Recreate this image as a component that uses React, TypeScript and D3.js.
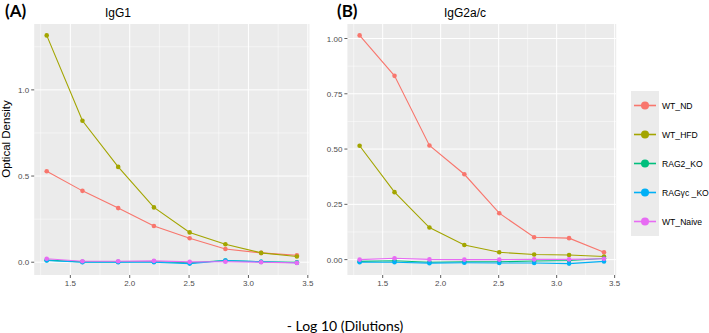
import * as d3 from "d3";

const dilutions = [1.301, 1.602, 1.903, 2.204, 2.505, 2.806, 3.107, 3.408];
const groups = ["WT_ND", "WT_HFD", "RAG2_KO", "RAGγc _KO", "WT_Naive"];
const colors = ["#F8766D", "#A3A500", "#00BF7D", "#00B0F6", "#E76BF3"];

// IgG1 optical density, one array per group
const igg1ND = [0.528, 0.414, 0.314, 0.21, 0.139, 0.077, 0.054, 0.04];
const igg1HFD = [1.316, 0.821, 0.553, 0.318, 0.173, 0.104, 0.054, 0.033];
const igg1RAG2 = [0.012, 0.002, 0.002, 0.004, -0.004, 0.01, 0.003, -0.001];
const igg1RAGgc = [0.01, 0.0, 0.0, 0.0, -0.008, 0.01, 0.002, -0.003];
const igg1Naive = [0.02, 0.006, 0.006, 0.008, 0.002, 0.003, 0.0, -0.004];

// IgG2a/c optical density
const igg2ND = [1.014, 0.831, 0.516, 0.386, 0.21, 0.101, 0.097, 0.033];
const igg2HFD = [0.515, 0.305, 0.145, 0.066, 0.033, 0.023, 0.021, 0.014];
const igg2RAG2 = [-0.008, -0.005, -0.012, -0.01, -0.01, -0.006, -0.004, 0.005];
const igg2RAGgc = [-0.012, -0.012, -0.016, -0.014, -0.015, -0.015, -0.018, -0.008];
const igg2Naive = [0.0, 0.006, 0.001, 0.0, 0.0, 0.001, 0.001, 0.004];

const xTicks = [1.5, 2.0, 2.5, 3.0, 3.5];
const xMinor = [1.25, 1.75, 2.25, 2.75, 3.25];
const yTicksA = [0, 0.5, 1.0];
const yMinorA = [0.25, 0.75, 1.25];
const yTicksB = [0, 0.25, 0.5, 0.75, 1.0];
const yMinorB = [0.125, 0.375, 0.625, 0.875];

const sans = "'Liberation Sans', Arial, sans-serif";
const calib = "Lato, 'Open Sans', sans-serif";

// ggplot-like 5% expansion
function expand(vals: number[]): [number, number] {
  const [lo, hi] = d3.extent(vals) as [number, number];
  const pad = (hi - lo) * 0.05;
  return [lo - pad, hi + pad];
}

interface PanelProps {
  left: number;
  right: number;
  series: number[][];
  yTicks: number[];
  yMinor: number[];
  yDigits: number;
}

function Panel({ left, right, series, yTicks, yMinor, yDigits }: PanelProps) {
  const top = 24;
  const bottom = 275;
  const x = d3.scaleLinear().domain(expand(dilutions)).range([left, right]);
  const y = d3.scaleLinear().domain(expand(series.flat())).range([bottom, top]);
  const line = d3
    .line<number>()
    .x((_, i) => x(dilutions[i]))
    .y((d) => y(d));

  return (
    <g>
      <rect x={left} y={top} width={right - left} height={bottom - top} fill="#ebebeb" />
      {xMinor.map((t) => (
        <line key={"xm" + t} x1={x(t)} x2={x(t)} y1={top} y2={bottom} stroke="#fff" strokeWidth={0.5} />
      ))}
      {yMinor.map((t) => (
        <line key={"ym" + t} x1={left} x2={right} y1={y(t)} y2={y(t)} stroke="#fff" strokeWidth={0.5} />
      ))}
      {xTicks.map((t) => (
        <line key={"xg" + t} x1={x(t)} x2={x(t)} y1={top} y2={bottom} stroke="#fff" strokeWidth={1} />
      ))}
      {yTicks.map((t) => (
        <line key={"yg" + t} x1={left} x2={right} y1={y(t)} y2={y(t)} stroke="#fff" strokeWidth={1} />
      ))}
      {series.map((s, k) => (
        <g key={groups[k]}>
          <path d={line(s) ?? ""} fill="none" stroke={colors[k]} strokeWidth={1.1} />
          {s.map((v, i) => (
            <circle key={i} cx={x(dilutions[i])} cy={y(v)} r={2.3} fill={colors[k]} />
          ))}
        </g>
      ))}
      {xTicks.map((t) => (
        <g key={"xt" + t}>
          <line x1={x(t)} x2={x(t)} y1={bottom} y2={bottom + 3} stroke="#333" strokeWidth={0.8} />
          <text x={x(t)} y={bottom + 11} textAnchor="middle" fontSize={8} fill="#4d4d4d" fontFamily={sans}>
            {t.toFixed(1)}
          </text>
        </g>
      ))}
      {yTicks.map((t) => (
        <g key={"yt" + t}>
          <line x1={left - 3} x2={left} y1={y(t)} y2={y(t)} stroke="#333" strokeWidth={0.8} />
          <text x={left - 5} y={y(t) + 3} textAnchor="end" fontSize={8} fill="#4d4d4d" fontFamily={sans}>
            {t.toFixed(yDigits)}
          </text>
        </g>
      ))}
    </g>
  );
}

function Legend() {
  const kx = 631;
  const kw = 28;
  const rowH = 29;
  const y0 = 91;
  return (
    <g>
      {groups.map((g, i) => {
        const cy = y0 + i * rowH + rowH / 2;
        return (
          <g key={g}>
            <rect x={kx} y={y0 + i * rowH} width={kw} height={rowH} fill="#ebebeb" />
            <line x1={kx + 3} x2={kx + kw - 3} y1={cy} y2={cy} stroke={colors[i]} strokeWidth={1.6} />
            <circle cx={kx + kw / 2} cy={cy} r={4} fill={colors[i]} />
            <text x={kx + kw + 3} y={cy + 3} fontSize={8.6} fill="#000" fontFamily={sans}>
              {g}
            </text>
          </g>
        );
      })}
    </g>
  );
}

export default function App() {
  return (
    <svg
      width={709}
      height={333}
      style={{ position: "absolute", left: 0, top: 0, background: "#fff" }}
    >
      <Panel
        left={34.2}
        right={309.4}
        series={[igg1ND, igg1HFD, igg1RAG2, igg1RAGgc, igg1Naive]}
        yTicks={yTicksA}
        yMinor={yMinorA}
        yDigits={1}
      />
      <Panel
        left={347.4}
        right={616.2}
        series={[igg2ND, igg2HFD, igg2RAG2, igg2RAGgc, igg2Naive]}
        yTicks={yTicksB}
        yMinor={yMinorB}
        yDigits={2}
      />
      <Legend />
      <text x={5} y={17} fontSize={17} fontWeight="bold" fontFamily={calib}>(A)</text>
      <text x={337} y={17} fontSize={17} fontWeight="bold" fontFamily={calib}>(B)</text>
      <text x={118} y={17} textAnchor="middle" fontSize={12} fontFamily={sans}>IgG1</text>
      <text x={465} y={17} textAnchor="middle" fontSize={12} fontFamily={sans}>IgG2a/c</text>
      <text
        transform="translate(10,139) rotate(-90)"
        textAnchor="middle"
        fontSize={11.5}
        fontFamily={sans}
      >
        Optical Density
      </text>
      <text x={345} y={331} textAnchor="middle" fontSize={14} fontFamily={calib}>
        - Log 10 (Dilutions)
      </text>
    </svg>
  );
}
